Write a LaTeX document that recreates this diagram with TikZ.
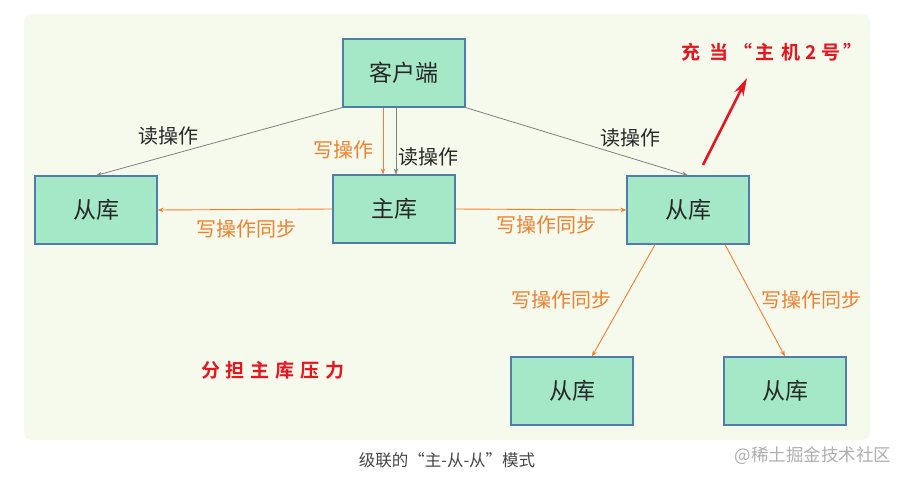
\documentclass[tikz,border=0pt]{standalone}
\usepackage{fontspec}
\setmainfont{Noto Sans CJK SC}
\newfontfamily\cjkbold{Noto Sans CJK SC Bold}
\usetikzlibrary{arrows.meta,calc}
\definecolor{panelbg}{RGB}{245,250,236}
\definecolor{boxfill}{RGB}{165,232,200}
\definecolor{boxline}{RGB}{80,125,170}
\definecolor{orangeline}{RGB}{240,128,48}
\definecolor{grayline}{RGB}{128,128,128}
\definecolor{labeldark}{RGB}{40,40,40}
\definecolor{redtext}{RGB}{232,20,30}
\definecolor{captiongray}{RGB}{70,70,70}
\definecolor{wmgray}{RGB}{175,175,175}
\tikzset{
  dbbox/.style={draw=boxline, line width=1.1pt, fill=boxfill, minimum width=122pt, minimum height=68pt, inner sep=0pt, font=\fontsize{23}{23}\selectfont, text=labeldark},
  readarrow/.style={draw=grayline, line width=0.8pt, -{Stealth[length=6pt,width=4.5pt]}},
  writearrow/.style={draw=orangeline, line width=0.9pt, -{Stealth[length=6pt,width=4.5pt]}},
  readlabel/.style={font=\fontsize{20}{20}\selectfont, text=labeldark, inner sep=0pt},
  writelabel/.style={font=\fontsize{20}{20}\selectfont, text=orangeline, inner sep=0pt},
  redlabel/.style={font=\cjkbold\fontsize{19}{19}\selectfont, text=redtext, inner sep=0pt}
}
\begin{document}
\begin{tikzpicture}[x=1pt,y=-1pt]
\useasboundingbox (0,0) rectangle (911,481);
\fill[white] (0,0) rectangle (911,481);
\node[draw=none, fill=panelbg, rounded corners=8pt, minimum width=846pt, minimum height=426pt, inner sep=0pt] (panel) at (447,227) {};

\node[dbbox] (ck) at (404,73) {客户端};
\node[dbbox] (sl) at (96,210) {从库};
\node[dbbox] (zk) at (394,209) {主库};
\node[dbbox] (sr) at (688,210) {从库};
\node[dbbox] (bl) at (572,391) {从库};
\node[dbbox] (br) at (785,391) {从库};

\draw[readarrow] (ck.south west) -- (sl.north);
\draw[readarrow] (ck.south east) -- (sr.north);
\draw[writearrow] (383,0 |- ck.south) -- (383,0 |- zk.north);
\draw[readarrow] (396,0 |- ck.south) -- (396,0 |- zk.north);
\draw[writearrow] (zk.west) -- (sl.east);
\draw[writearrow] (zk.east) -- (sr.west);
\draw[writearrow] (655,0 |- sr.south) -- (592,0 |- bl.north);
\draw[writearrow] (725,0 |- sr.south) -- (785,0 |- br.north);

\node[readlabel] (l1) at (168,136) {读操作};
\node[writelabel] (l2) at (343,150) {写操作};
\node[readlabel] (l3) at (428,157) {读操作};
\node[readlabel] (l4) at (630,138) {读操作};
\node[writelabel] (l5) at (246,229) {写操作同步};
\node[writelabel] (l6) at (546,225) {写操作同步};
\node[writelabel] (l7) at (561,300) {写操作同步};
\node[writelabel] (l8) at (811,300) {写操作同步};

\node[redlabel] (r1) at (772,52) {充\kern9pt 当\kern5pt “\kern3pt 主\kern7pt 机\kern5pt 2\kern5pt 号\kern3pt ”};
\coordinate (rstart) at (703,165);
\coordinate (rend) at (747,78);
\draw[draw=redtext, line width=2.6pt, -{Stealth[length=18pt,width=10pt]}] (rstart) -- (rend);
\node[redlabel] (r2) at (273,370) {分\kern6pt 担\kern6pt 主\kern6pt 库\kern6pt 压\kern6pt 力};

\node[font=\fontsize{16.5}{16.5}\selectfont, text=captiongray, inner sep=0pt] (cap) at (447,460) {级联的“主-从-从”模式};
\node[font=\fontsize{17.5}{17.5}\selectfont, text=wmgray, inner sep=0pt] (wm) at (813,456) {@稀土掘金技术社区};
\end{tikzpicture}
\end{document}
